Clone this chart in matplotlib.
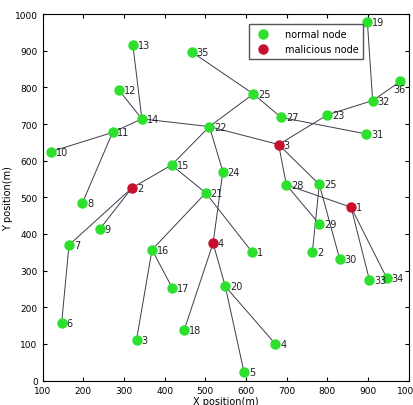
import matplotlib
matplotlib.use("Agg")
import matplotlib.pyplot as plt

# node keys (m = malicious), positions
node_id = ['13', '35', '12', '14', '11', '10', '22', '15', 'm2', '21',
           '25a', '27', '23', '32', '36', '31', 'm3', '24', '28', '25b',
           '19', '8', '9', '7', '16', '17', '6', '18', '3', 'm4',
           'm1', '29', '1', '2', '30', '33', '34', '20', '4', '5']
node_x = [322, 466, 288, 344, 272, 122, 510, 417, 320, 501,
          618, 686, 800, 911, 979, 895, 680, 543, 699, 780,
          898, 198, 241, 165, 369, 419, 147, 448, 331, 519,
          858, 780, 614, 763, 830, 903, 946, 549, 672, 595]
node_y = [915, 897, 792, 714, 677, 625, 693, 588, 526, 512,
          782, 718, 725, 764, 816, 673, 644, 570, 534, 535,
          979, 485, 414, 370, 357, 252, 157, 138, 112, 375,
          473, 427, 352, 352, 332, 275, 279, 257, 100, 23]

edges = [('13', '14'), ('12', '14'), ('11', '14'), ('14', '22'), ('10', '11'),
         ('11', '8'), ('35', '25a'), ('25a', '22'), ('25a', '27'), ('27', '31'),
         ('23', 'm3'), ('23', '32'), ('32', '19'), ('32', '36'), ('22', 'm3'),
         ('22', '15'), ('22', '24'), ('24', 'm4'), ('21', '1'), ('15', 'm2'),
         ('15', '21'), ('m2', '7'), ('m2', '9'), ('7', '6'), ('16', '21'),
         ('16', '17'), ('16', '3'), ('m4', '18'), ('m4', '20'), ('20', '5'),
         ('20', '4'), ('m3', '28'), ('m3', '25b'), ('28', '29'), ('28', 'm1'),
         ('25b', '2'), ('25b', '30'), ('m1', '33'), ('m1', '34')]

x_ticks = list(range(100, 1001, 100))
y_ticks = list(range(0, 1001, 100))

green = '#2ee02e'
red = '#c8102e'

fig = plt.figure(figsize=(4.13, 4.06), dpi=100)
ax = fig.add_axes([0.103, 0.060, 0.887, 0.903])

pos = {k: (x, y) for k, x, y in zip(node_id, node_x, node_y)}
for a, b in edges:
    ax.plot([pos[a][0], pos[b][0]], [pos[a][1], pos[b][1]], color='#3c3c4c', lw=0.7, zorder=1)

for k, x, y in zip(node_id, node_x, node_y):
    c = red if k.startswith('m') else green
    ax.plot(x, y, 'o', color=c, ms=6.5, mec=c, zorder=2)
    lab = k.lstrip('m').rstrip('ab')
    if k == '36':
        # right edge: label sits under the node
        ax.text(x - 3, y - 8, lab, fontsize=7, va='top', ha='center', color='#222222', zorder=3)
    else:
        ax.text(x + 12, y, lab, fontsize=7, va='center', ha='left', color='#222222', zorder=3)

ax.plot([], [], 'o', color=green, ms=6.5, label='normal node')
ax.plot([], [], 'o', color=red, ms=6.5, label='malicious node')
ax.legend(loc='upper left', bbox_to_anchor=(0.55, 0.985), fontsize=7, fancybox=False,
          edgecolor='#555555', framealpha=1, borderpad=0.5, handletextpad=1.2)

ax.set_xlim(100, 1000)
ax.set_ylim(0, 1000)
ax.set_xticks(x_ticks)
ax.set_yticks(y_ticks)
ax.tick_params(direction='in', top=True, right=True, labelsize=6.5, length=3)
ax.set_xlabel('X position(m)', fontsize=7, labelpad=1)
ax.set_ylabel('Y position(m)', fontsize=7, labelpad=1)

fig.savefig('out.png', dpi=100)
